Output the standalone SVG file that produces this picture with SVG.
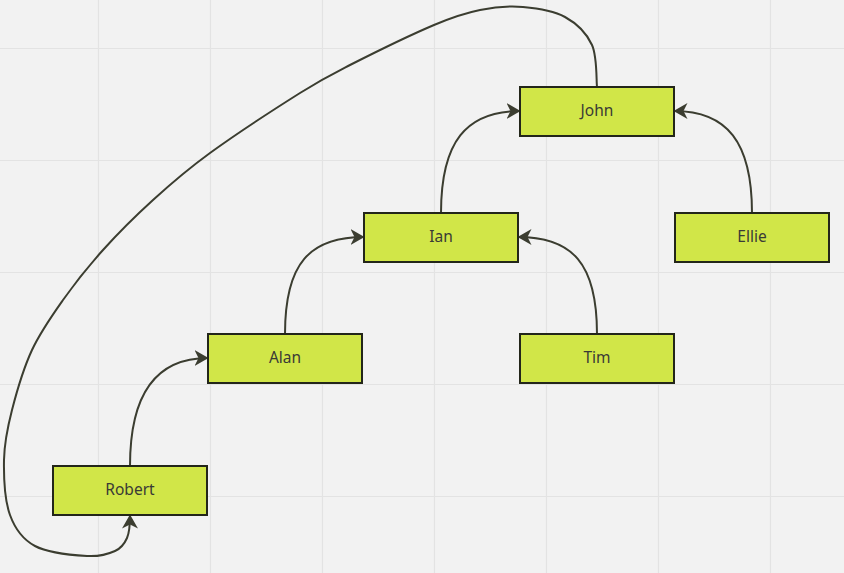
<svg xmlns="http://www.w3.org/2000/svg" width="844" height="573" viewBox="0 0 844 573">
<style>
.grid{stroke:#e3e3e3;stroke-width:1.2}
.node rect{fill:#d1e648;stroke:#23261a;stroke-width:2}
.node text{font-family:"Noto Sans","Open Sans",sans-serif;font-size:15.5px;fill:#3a3a36;text-anchor:middle;dominant-baseline:central}
.edge{fill:none;stroke:#3b3d30;stroke-width:2;marker-end:url(#arr)}
</style>
<defs>
<marker id="arr" viewBox="0 0 14 16" refX="13.5" refY="8" markerWidth="14" markerHeight="16" markerUnits="userSpaceOnUse" orient="auto">
<path d="M0,0 L14,8 L0,16 L4,8 z" fill="#3b3d30"/>
</marker>
</defs>
<rect width="844" height="573" fill="#f2f2f2"/>
<g id="grid">
<line class="grid" x1="98.5" y1="0" x2="98.5" y2="573"/>
<line class="grid" x1="210.5" y1="0" x2="210.5" y2="573"/>
<line class="grid" x1="322.5" y1="0" x2="322.5" y2="573"/>
<line class="grid" x1="434.5" y1="0" x2="434.5" y2="573"/>
<line class="grid" x1="546.5" y1="0" x2="546.5" y2="573"/>
<line class="grid" x1="658.5" y1="0" x2="658.5" y2="573"/>
<line class="grid" x1="770.5" y1="0" x2="770.5" y2="573"/>
<line class="grid" x1="0" y1="48.5" x2="844" y2="48.5"/>
<line class="grid" x1="0" y1="160.5" x2="844" y2="160.5"/>
<line class="grid" x1="0" y1="272.5" x2="844" y2="272.5"/>
<line class="grid" x1="0" y1="384.5" x2="844" y2="384.5"/>
<line class="grid" x1="0" y1="496.5" x2="844" y2="496.5"/>
</g>
<g id="connectors">
<path class="edge" d="M441,213 C441,142 466,111 520,111"/>
<path class="edge" d="M752,213 C752,142 727,111 674,111"/>
<path class="edge" d="M285,334 C285,263 310,237 364,237"/>
<path class="edge" d="M597,334 C597,263 572,237 518,237"/>
<path class="edge" d="M130,466 C130,395 155,358 208,358"/>
<path class="edge" d="M597,87 C596.2,80 597.3,56.7 592,45 C586.7,33.3 576.5,23.3 565,17 C553.5,10.7 537.2,8.2 523,7 C508.8,5.8 494.8,7 480,10 C465.2,13 455.7,15.8 434,25 C412.3,34.2 372.3,53.7 350,65 C327.7,76.3 323.3,78.3 300,93 C276.7,107.7 234.5,135.2 210,153 C185.5,170.8 170.8,183.8 153,200 C135.2,216.2 118,233.3 103,250 C88,266.7 74.8,283.3 63,300 C51.2,316.7 40.5,331.7 32,350 C23.5,368.3 16.7,391.7 12,410 C7.3,428.3 4.3,442.5 4,460 C3.7,477.5 4.8,500.7 10,515 C15.2,529.3 22.2,539.2 35,546 C47.8,552.8 73.7,555.2 87,556 C100.3,556.8 108.3,554 115,551 C121.7,548 124.5,543.7 127,538 C129.5,532.3 130,524 130,515"/>
</g>
<g id="john" class="node"><rect x="520" y="87" width="154" height="49"/><text x="597" y="109.5">John</text></g>
<g id="ian" class="node"><rect x="364" y="213" width="154" height="49"/><text x="441" y="235.5">Ian</text></g>
<g id="ellie" class="node"><rect x="675" y="213" width="154" height="49"/><text x="752" y="235.5">Ellie</text></g>
<g id="alan" class="node"><rect x="208" y="334" width="154" height="49"/><text x="285" y="356.5">Alan</text></g>
<g id="tim" class="node"><rect x="520" y="334" width="154" height="49"/><text x="597" y="356.5">Tim</text></g>
<g id="robert" class="node"><rect x="53" y="466" width="154" height="49"/><text x="130" y="488.5">Robert</text></g>
</svg>
